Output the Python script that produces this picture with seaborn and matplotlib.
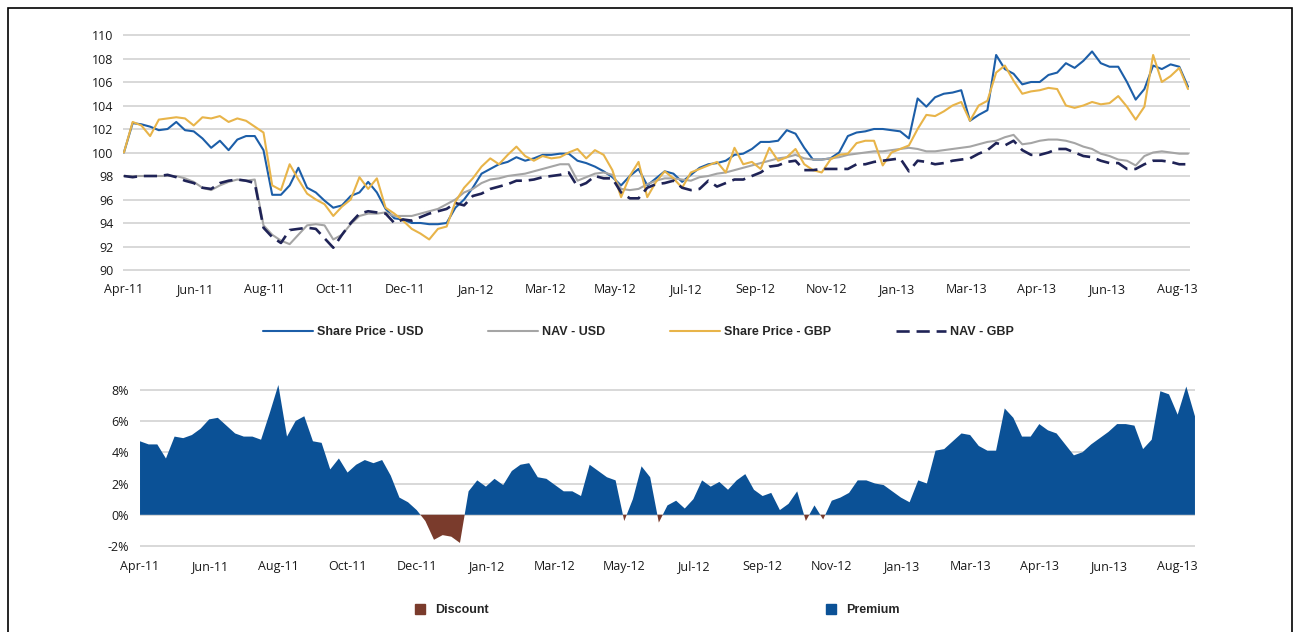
import numpy as np
import pandas as pd
import matplotlib
matplotlib.use("Agg")
import matplotlib.pyplot as plt
from matplotlib.lines import Line2D
from matplotlib.patches import Patch, Rectangle
import seaborn as sns

# month labels shown on both x axes (one every 8 points)
month_labels = ["Apr-11", "Jun-11", "Aug-11", "Oct-11", "Dec-11", "Jan-12", "Mar-12", "May-12",
                "Jul-12", "Sep-12", "Nov-12", "Jan-13", "Mar-13", "Apr-13", "Jun-13", "Aug-13"]

# rebased price series
share_usd = [100.0, 102.5, 102.4, 102.2, 101.9, 102.0, 102.6, 101.9, 101.8, 101.2, 100.4, 101.0, 100.2, 101.1, 101.4, 101.4,
             100.2, 96.4, 96.4, 97.2, 98.7, 97.0, 96.6, 95.9, 95.3, 95.5, 96.3, 96.6, 97.5, 96.6, 95.2,
             94.4, 94.3, 94.0, 94.0, 93.9, 93.9, 94.0, 95.3, 96.0, 97.0, 98.2, 98.6, 99.0, 99.2, 99.6, 99.3,
             99.5, 99.8, 99.8, 99.9, 99.9, 99.3, 99.1, 98.8, 98.4, 97.9, 97.2, 98.0, 98.6, 97.2, 97.8,
             98.4, 98.2, 97.5, 98.1, 98.7, 99.0, 99.1, 99.3, 99.8, 99.9, 100.3, 100.9, 100.9, 101.0, 101.9,
             101.6, 100.4, 99.4, 99.4, 99.5, 100.0, 101.4, 101.7, 101.8, 102.0, 102.0, 101.9, 101.8, 101.2, 104.6,
             103.9, 104.7, 105.0, 105.1, 105.3, 102.7, 103.2, 103.6, 108.3, 107.1, 106.7, 105.8, 106.0, 106.0, 106.6,
             106.8, 107.6, 107.2, 107.8, 108.6, 107.6, 107.3, 107.3, 106.0, 104.5, 105.4, 107.4, 107.1, 107.5, 107.3, 105.6]

nav_usd = [98.0, 98.0, 98.0, 98.0, 98.0, 98.0, 98.0, 97.8, 97.5, 97.0, 96.8, 97.2, 97.5, 97.7, 97.6, 97.7,
           93.8, 93.0, 92.5, 92.2, 93.0, 93.8, 93.9, 93.8, 92.6, 93.0, 93.9, 94.6, 94.8, 94.8, 94.9,
           94.6, 94.6, 94.6, 94.8, 95.0, 95.2, 95.6, 96.0, 96.6, 96.9, 97.4, 97.7, 97.8, 98.0, 98.1, 98.2,
           98.4, 98.6, 98.8, 99.0, 99.0, 97.6, 97.9, 98.2, 98.3, 98.1, 96.9, 96.8, 96.9, 97.3, 97.6,
           97.8, 97.8, 97.7, 97.6, 97.9, 98.0, 98.2, 98.3, 98.5, 98.7, 98.9, 99.1, 99.3, 99.5, 99.6,
           99.8, 99.5, 99.4, 99.4, 99.5, 99.6, 99.8, 99.9, 100.0, 100.1, 100.1, 100.2, 100.3, 100.4, 100.3,
           100.1, 100.1, 100.2, 100.3, 100.4, 100.5, 100.7, 100.9, 101.0, 101.3, 101.5, 100.7, 100.8, 101.0, 101.1,
           101.1, 101.0, 100.8, 100.5, 100.3, 99.9, 99.7, 99.4, 99.3, 98.9, 99.7, 100.0, 100.1, 100.0, 99.9, 99.9]

share_gbp = [100.0, 102.6, 102.3, 101.4, 102.8, 102.9, 103.0, 102.9, 102.3, 103.0, 102.9, 103.1, 102.6, 102.9, 102.7, 102.2,
             101.7, 97.2, 96.8, 99.0, 97.7, 96.5, 96.0, 95.6, 94.6, 95.4, 96.0, 97.9, 96.9, 97.8, 95.3,
             94.8, 94.2, 93.5, 93.1, 92.6, 93.5, 93.7, 95.8, 97.0, 97.8, 98.8, 99.5, 99.0, 99.8, 100.5, 99.7,
             99.3, 99.7, 99.5, 99.6, 100.0, 100.3, 99.5, 100.2, 99.8, 98.5, 96.2, 98.0, 99.2, 96.2, 97.5,
             98.4, 97.8, 97.0, 98.3, 98.6, 98.9, 99.2, 98.3, 100.4, 99.0, 99.2, 98.6, 100.4, 99.3, 99.6,
             100.3, 99.0, 98.5, 98.3, 99.4, 99.8, 99.9, 100.8, 101.0, 101.0, 98.9, 100.0, 100.3, 100.6, 102.0,
             103.2, 103.1, 103.5, 104.0, 104.3, 102.7, 104.0, 104.4, 106.8, 107.4, 106.1, 105.0, 105.2, 105.3, 105.5,
             105.4, 104.0, 103.8, 104.0, 104.3, 104.1, 104.2, 104.8, 103.9, 102.8, 103.9, 108.3, 106.0, 106.5, 107.2, 105.4]

nav_gbp = [98.0, 97.9, 98.0, 98.0, 98.0, 98.1, 97.9, 97.6, 97.4, 97.0, 96.9, 97.4, 97.6, 97.7, 97.6, 97.4,
           93.6, 92.8, 92.3, 93.4, 93.5, 93.6, 93.5, 92.7, 91.9, 93.0, 94.0, 94.8, 95.0, 94.9, 94.8,
           94.0, 94.3, 94.2, 94.5, 94.8, 95.0, 95.2, 95.7, 95.5, 96.3, 96.5, 96.9, 97.1, 97.3, 97.6, 97.6,
           97.7, 97.9, 98.0, 98.1, 98.3, 97.1, 97.4, 98.0, 97.8, 97.8, 96.6, 96.1, 96.1, 97.0, 97.3,
           97.4, 97.6, 97.0, 96.8, 96.9, 97.6, 97.1, 97.4, 97.7, 97.7, 98.0, 98.3, 98.8, 98.9, 99.2,
           99.3, 98.5, 98.5, 98.6, 98.6, 98.6, 98.6, 99.0, 99.0, 99.2, 99.3, 99.4, 99.5, 98.4, 99.3,
           99.2, 99.0, 99.1, 99.3, 99.4, 99.5, 99.9, 100.2, 100.8, 100.6, 101.0, 100.2, 99.8, 99.8, 100.0,
           100.3, 100.3, 100.0, 99.7, 99.6, 99.3, 99.1, 99.1, 98.6, 98.6, 99.0, 99.3, 99.3, 99.2, 99.0, 99.0]

# premium / discount to NAV in %
premium = [4.7, 4.5, 4.5, 3.6, 5.0, 4.9, 5.1, 5.5, 6.1, 6.2, 5.7, 5.2, 5.0, 5.0, 4.8, 6.5,
           8.3, 5.0, 6.0, 6.3, 4.7, 4.6, 2.9, 3.6, 2.7, 3.2, 3.5, 3.3, 3.5, 2.5, 1.1,
           0.8, 0.3, -0.4, -1.6, -1.3, -1.4, -1.8, 1.5, 2.2, 1.8,
           2.3, 1.9, 2.8, 3.2, 3.3, 2.4, 2.3, 1.9, 1.5, 1.5, 1.2, 3.2, 2.8, 2.4, 2.2, -0.4,
           1.0, 3.1, 2.4, -0.5, 0.6, 0.9, 0.4, 1.0, 2.2, 1.8, 2.1, 1.6, 2.2, 2.6, 1.6,
           1.2, 1.4, 0.3, 0.7, 1.5, -0.4, 0.6, -0.3, 0.9, 1.1,
           1.4, 2.2, 2.2, 2.0, 1.9, 1.5, 1.1, 0.8, 2.2, 2.0, 4.1, 4.2, 4.7, 5.2, 5.1,
           4.4, 4.1, 4.1, 6.8, 6.2, 5.0, 5.0, 5.8, 5.4, 5.2, 4.5, 3.8, 4.0, 4.5, 4.9,
           5.3, 5.8, 5.8, 5.7, 4.2, 4.8, 7.9, 7.7, 6.4, 8.2, 6.3]

series_names = ["Share Price - USD", "NAV - USD", "Share Price - GBP", "NAV - GBP"]
series_colors = ["#1c5ea8", "#a5a5a5", "#e8b449", "#1f2356"]

df = pd.DataFrame({"idx": np.arange(len(share_usd)),
                   "Share Price - USD": share_usd, "NAV - USD": nav_usd,
                   "Share Price - GBP": share_gbp, "NAV - GBP": nav_gbp,
                   "premium": premium})

sns.set_theme(style="white")
plt.rcParams["font.family"] = ["Open Sans", "DejaVu Sans"]

fig = plt.figure(figsize=(13, 6.32), dpi=100)

# top chart: price performance
ax1 = fig.add_axes([0.0946, 0.5712, 0.8208, 0.375])
dash = (0, (5, 2.6))
for name, col in zip(series_names, series_colors):
    if name == "NAV - GBP":
        sns.lineplot(data=df, x="idx", y=name, ax=ax1, color=col, lw=1.9, linestyle=dash)
    else:
        sns.lineplot(data=df, x="idx", y=name, ax=ax1, color=col, lw=1.5)
ax1.set_xlim(-0.11, 122.23)
ax1.set_ylim(89.915, 110.085)
ax1.set_yticks(range(90, 111, 2))
ax1.set_xticks([8.05 * k for k in range(len(month_labels))])
ax1.set_xticklabels(month_labels)
ax1.yaxis.grid(True, color="#d6d6d6", lw=1.3)
ax1.set_axisbelow(True)
ax1.set_xlabel("")
ax1.set_ylabel("")
for s in ax1.spines.values():
    s.set_visible(False)
ax1.tick_params(axis="y", length=0, pad=7, labelsize=9, labelcolor="#1a1a1a")
ax1.tick_params(axis="x", length=0, pad=8.5, labelsize=9, labelcolor="#1a1a1a")

# bottom chart: premium / discount
ax2 = fig.add_axes([0.1077, 0.1335, 0.8115, 0.2623])
x = df["idx"].to_numpy()
p = df["premium"].to_numpy()
ax2.fill_between(x, p, 0, where=p >= 0, interpolate=True, color="#0b5196", lw=0)
ax2.fill_between(x, p, 0, where=p < 0, interpolate=True, color="#7a3b2c", lw=0)
ax2.set_xlim(0, 122)
ax2.set_ylim(-2.1, 8.5)
ax2.set_yticks(range(-2, 9, 2))
ax2.set_yticklabels([f"{v}%" for v in range(-2, 9, 2)])
ax2.set_xticks([8 * k for k in range(len(month_labels))])
ax2.set_xticklabels(month_labels)
ax2.yaxis.grid(True, color="#d6d6d6", lw=1.3)
ax2.set_axisbelow(True)
for s in ax2.spines.values():
    s.set_visible(False)
ax2.tick_params(axis="y", length=0, pad=8, labelsize=9, labelcolor="#1a1a1a")
ax2.tick_params(axis="x", length=0, pad=9, labelsize=9, labelcolor="#1a1a1a")

legend_font = {"family": "Liberation Sans", "weight": "bold", "size": 9}

handles = [Line2D([], [], color=c, lw=1.9 if n == "NAV - GBP" else 1.5,
                  linestyle=dash if n == "NAV - GBP" else "-")
           for n, c in zip(series_names, series_colors)]
fig.legend(handles, series_names, loc="center", bbox_to_anchor=(0.4912, 0.4747), ncol=4,
           frameon=False, handlelength=4, columnspacing=5.2, handletextpad=0.3, prop=legend_font)

pd_handles = [Patch(color="#7a3b2c"), Patch(color="#0b5196")]
fig.legend(pd_handles, ["Discount", "Premium"], loc="center", bbox_to_anchor=(0.5058, 0.0348), ncol=2,
           frameon=False, handlelength=0.8, handleheight=0.8, columnspacing=27, handletextpad=0.8,
           prop=legend_font)

# page frame
fig.add_artist(Rectangle((8 / 1300, -0.05), 1284 / 1300, 1.05 - 8 / 632, transform=fig.transFigure,
                         fill=False, ec="black", lw=1.2))

fig.savefig("out.png", dpi=100)
